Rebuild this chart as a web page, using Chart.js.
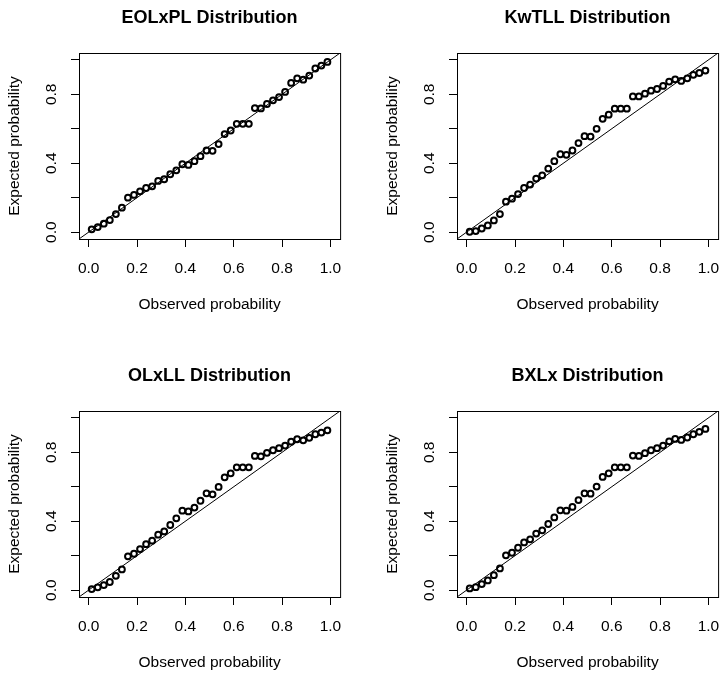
<!DOCTYPE html>
<html>
<head>
<meta charset="utf-8">
<title>P-P plots</title>
<script src="https://cdn.jsdelivr.net/npm/chart.js@4.4.1/dist/chart.umd.min.js"></script>
<style>
  html, body { margin: 0; padding: 0; background: #fff; overflow: hidden; }
  #wrap { position: relative; width: 723px; height: 675px; }
  canvas { position: absolute; }
</style>
</head>
<body>
<div id="wrap">
  <canvas id="p1" width="345" height="317" style="left:0px;top:0px"></canvas>
  <canvas id="p2" width="345" height="317" style="left:378px;top:0px"></canvas>
  <canvas id="p3" width="345" height="317" style="left:0px;top:358px"></canvas>
  <canvas id="p4" width="345" height="317" style="left:378px;top:358px"></canvas>
</div>
<script>
// --- data ---
const observed = [0.0125, 0.0375, 0.0625, 0.0875, 0.1125, 0.1375, 0.1625, 0.1875, 0.2125, 0.2375,
                  0.2625, 0.2875, 0.3125, 0.3375, 0.3625, 0.3875, 0.4125, 0.4375, 0.4625, 0.4875,
                  0.5125, 0.5375, 0.5625, 0.5875, 0.6125, 0.6375, 0.6625, 0.6875, 0.7125, 0.7375,
                  0.7625, 0.7875, 0.8125, 0.8375, 0.8625, 0.8875, 0.9125, 0.9375, 0.9625, 0.9875];

const eolxpl = [0.016, 0.029, 0.049, 0.070, 0.105, 0.142, 0.200, 0.216, 0.237, 0.256,
                0.266, 0.297, 0.307, 0.336, 0.359, 0.394, 0.390, 0.412, 0.441, 0.474,
                0.472, 0.511, 0.569, 0.590, 0.629, 0.629, 0.629, 0.720, 0.718, 0.744,
                0.765, 0.784, 0.814, 0.866, 0.893, 0.885, 0.909, 0.950, 0.967, 0.988];

const kwtll = [0.002, 0.006, 0.021, 0.039, 0.068, 0.105, 0.177, 0.194, 0.221, 0.256,
               0.276, 0.311, 0.330, 0.369, 0.412, 0.452, 0.449, 0.474, 0.517, 0.557,
               0.555, 0.600, 0.658, 0.682, 0.717, 0.717, 0.717, 0.788, 0.788, 0.804,
               0.821, 0.831, 0.849, 0.874, 0.887, 0.878, 0.893, 0.913, 0.924, 0.938];

const olxll = [0.006, 0.016, 0.029, 0.047, 0.083, 0.120, 0.196, 0.211, 0.238, 0.267,
               0.287, 0.322, 0.341, 0.378, 0.417, 0.461, 0.457, 0.479, 0.519, 0.562,
               0.556, 0.599, 0.655, 0.678, 0.713, 0.713, 0.713, 0.779, 0.777, 0.797,
               0.812, 0.824, 0.839, 0.862, 0.876, 0.870, 0.884, 0.905, 0.915, 0.928];

const bxlx = [0.010, 0.017, 0.035, 0.056, 0.087, 0.126, 0.202, 0.217, 0.246, 0.277,
              0.295, 0.328, 0.347, 0.384, 0.422, 0.463, 0.461, 0.483, 0.523, 0.562,
              0.560, 0.601, 0.657, 0.678, 0.713, 0.713, 0.713, 0.781, 0.779, 0.795,
              0.812, 0.824, 0.839, 0.864, 0.878, 0.872, 0.886, 0.905, 0.919, 0.936];

const xTicks = [0, 0.2, 0.4, 0.6, 0.8, 1.0];
const xTickLabels = ['0.0', '0.2', '0.4', '0.6', '0.8', '1.0'];
const yTicks = [0, 0.2, 0.4, 0.6, 0.8, 1.0];
const yTickLabels = ['0.0', '', '0.4', '', '0.8', ''];
const refLine = [-0.1, 1.1];   // y = x, clipped to the plot box

const FONT = 'Liberation Sans, Arial, Helvetica, sans-serif';
const axisFont = { family: FONT, size: 15.5 };

// draws the full box round the plot region (like R's box())
const boxPlugin = {
  id: 'rbox',
  afterDatasetsDraw(chart) {
    const { ctx, chartArea: a } = chart;
    ctx.save();
    ctx.strokeStyle = '#000';
    ctx.lineWidth = 1;
    ctx.strokeRect(a.left + 0.5, a.top + 0.5, a.right - a.left, a.bottom - a.top);
    ctx.restore();
  }
};

function makePanel(id, title, expected) {
  const pts = observed.map((x, i) => ({ x, y: expected[i] }));
  const diag = refLine.map(v => ({ x: v, y: v }));

  return new Chart(document.getElementById(id), {
    type: 'scatter',
    data: {
      datasets: [
        { type: 'line', data: diag, borderColor: '#000', borderWidth: 1, pointRadius: 0, fill: false },
        { data: pts, borderColor: '#000', backgroundColor: 'rgba(0,0,0,0)', borderWidth: 2,
          pointRadius: 2.9, pointHoverRadius: 2.9, pointStyle: 'circle' }
      ]
    },
    options: {
      responsive: false,
      animation: false,
      events: [],
      layout: { padding: { left: 0, right: 4, top: 0, bottom: 0 } },
      plugins: {
        legend: { display: false },
        tooltip: { enabled: false },
        title: {
          display: true, text: title, color: '#000', fullSize: false,
          font: { family: FONT, size: 18, weight: 'bold' },
          padding: { top: 7, bottom: 24.4 }
        }
      },
      scales: {
        x: {
          type: 'linear', min: -0.04, max: 1.04,
          afterBuildTicks: s => { s.ticks = xTicks.map(v => ({ value: v })); },
          // fixed height, and no extra side padding for the end labels
          afterFit: s => { s.height = 78; s.paddingLeft = 0; s.paddingRight = 0; },
          ticks: { callback: (v, i) => xTickLabels[i], autoSkip: false, maxRotation: 0,
                   padding: 12.9, color: '#000', font: axisFont },
          grid: { drawOnChartArea: false, drawTicks: true, tickLength: 8, color: '#000', lineWidth: 1 },
          border: { display: false },
          title: { display: true, text: 'Observed probability', color: '#000', font: axisFont,
                   padding: { top: 0, bottom: 2.5 } }
        },
        y: {
          type: 'linear', min: -0.04, max: 1.04,
          afterBuildTicks: s => { s.ticks = yTicks.map(v => ({ value: v })); },
          afterFit: s => { s.width = 79; s.paddingTop = 0; s.paddingBottom = 0; },
          ticks: { callback: (v, i) => yTickLabels[i], autoSkip: false, minRotation: 90, maxRotation: 90,
                   crossAlign: 'center', padding: 8.3, color: '#000', font: axisFont },
          grid: { drawOnChartArea: false, drawTicks: true, tickLength: 8, color: '#000', lineWidth: 1 },
          border: { display: false },
          title: { display: true, text: 'Expected probability', color: '#000', font: axisFont,
                   padding: { top: 5.2, bottom: 0 } }
        }
      }
    },
    plugins: [boxPlugin]
  });
}

makePanel('p1', 'EOLxPL Distribution', eolxpl);
makePanel('p2', 'KwTLL Distribution', kwtll);
makePanel('p3', 'OLxLL Distribution', olxll);
makePanel('p4', 'BXLx Distribution', bxlx);
</script>
</body>
</html>
